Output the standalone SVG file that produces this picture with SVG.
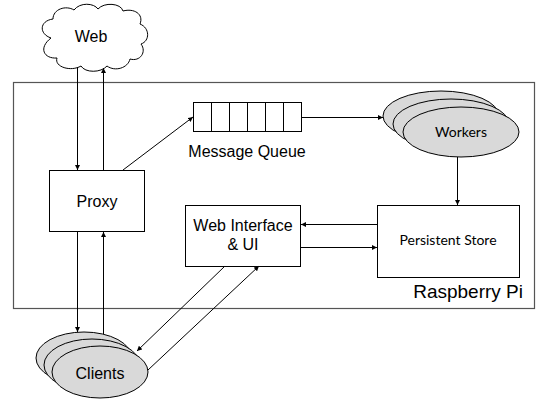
<svg xmlns="http://www.w3.org/2000/svg" width="540" height="401" viewBox="0 0 540 401">
<defs>
<marker id="ah" viewBox="0 0 10 10" refX="10" refY="5" markerWidth="5" markerHeight="5" orient="auto" markerUnits="userSpaceOnUse">
<path d="M0,0 L10,5 L0,10 z" fill="#000"/>
</marker>
</defs>
<style>
.box{fill:#fff;stroke:#000;stroke-width:1}
.ell{fill:#d9d9d9;stroke:#000;stroke-width:1}
.t{font-family:"Liberation Sans",Arial,sans-serif;font-size:16px;fill:#000;text-anchor:middle}
.c{font-family:Lato,"Open Sans",sans-serif;font-size:14px;fill:#000;text-anchor:middle}
.ln{stroke:#000;stroke-width:1;fill:none}
.ar{stroke:#000;stroke-width:1;fill:none;marker-end:url(#ah)}
</style>
<rect width="540" height="401" fill="#fff"/>
<g id="raspberry">
<rect x="13.5" y="82.5" width="521" height="226" fill="#fff" stroke="#555" stroke-width="1.2"/>
<text x="523" y="298" font-family="'Liberation Sans',Arial,sans-serif" font-size="19" text-anchor="end">Raspberry Pi</text>
</g>
<g id="web">
<path class="box" d="M51,38 C39,34 39,21 53,19 C53,9 66,5 74,10 C80,2 94,3 98,9 C104,2 121,3 123,11 C134,8 144,14 140,24 C150,28 150,41 141,44 C147,52 140,62 130,59 C128,68 115,72 107,66 C101,73 85,73 81,66 C71,72 54,67 57,58 C44,59 38,48 51,38 Z"/>
<text class="t" x="91" y="42">Web</text>
</g>
<g id="proxy">
<rect class="box" x="49.5" y="170.5" width="95" height="61"/>
<text class="t" x="97" y="207">Proxy</text>
</g>
<g id="queue">
<rect class="box" x="193.5" y="102.5" width="108" height="29"/>
<path class="ln" d="M211.5,102.5V131.5M229.5,102.5V131.5M247.5,102.5V131.5M265.5,102.5V131.5M283.5,102.5V131.5"/>
<text class="t" x="247" y="157">Message Queue</text>
</g>
<g id="workers">
<ellipse class="ell" cx="441" cy="116" rx="58" ry="25"/>
<ellipse class="ell" cx="451" cy="124" rx="58" ry="25"/>
<ellipse class="ell" cx="461" cy="132" rx="58" ry="25"/>
<text class="c" x="461" y="137">Workers</text>
</g>
<g id="store">
<rect class="box" x="377.5" y="205.5" width="142" height="72"/>
<text class="c" x="448" y="245">Persistent Store</text>
</g>
<g id="webui">
<rect class="box" x="185.5" y="205.5" width="115" height="61"/>
<text class="t" x="243" y="231">Web Interface</text>
<text class="t" x="243" y="250">&amp; UI</text>
</g>
<g id="clients">
<ellipse class="ell" cx="84" cy="358" rx="48" ry="26"/>
<ellipse class="ell" cx="92" cy="365" rx="48" ry="26"/>
<ellipse class="ell" cx="100" cy="372" rx="48" ry="26"/>
<text class="t" x="100" y="379">Clients</text>
</g>
<g id="connectors">
<line class="ar" x1="77.5" y1="67" x2="77.5" y2="170"/>
<line class="ar" x1="103.5" y1="170" x2="103.5" y2="68"/>
<line class="ar" x1="123" y1="170" x2="193" y2="117"/>
<line class="ar" x1="302" y1="117.5" x2="383" y2="117.5"/>
<line class="ar" x1="457.5" y1="157" x2="457.5" y2="205"/>
<line class="ar" x1="377" y1="224.5" x2="301" y2="224.5"/>
<line class="ar" x1="301" y1="247.5" x2="377" y2="247.5"/>
<line class="ar" x1="77.5" y1="231" x2="77.5" y2="332"/>
<line class="ar" x1="103.5" y1="334" x2="103.5" y2="232"/>
<line class="ar" x1="225" y1="266" x2="137" y2="351"/>
<line class="ar" x1="148" y1="370" x2="259" y2="266"/>
</g>
</svg>
